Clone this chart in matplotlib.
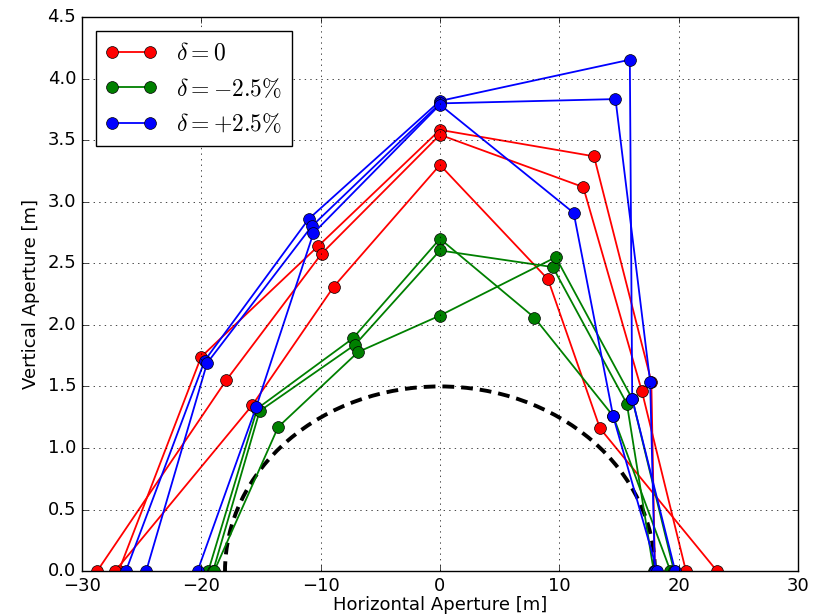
import matplotlib.pyplot as plt
from matplotlib.patches import Arc

plt.style.use('classic')
plt.rcParams['mathtext.fontset'] = 'cm'
plt.rcParams['figure.facecolor'] = 'white'
plt.rcParams['savefig.facecolor'] = 'white'

# aperture boundary, three runs per momentum offset, points ordered left -> top -> right
dp0_x = [
    [-26.9, -20.0, -10.2, 0.0, 12.9, 17.7, 18.0],
    [-28.7, -17.9, -9.9, 0.0, 12.0, 16.9, 20.6],
    [-27.2, -15.7, -8.9, 0.0, 9.05, 13.4, 23.2],
]
dp0_y = [
    [0.0, 1.74, 2.64, 3.585, 3.37, 1.54, 0.0],
    [0.0, 1.55, 2.58, 3.545, 3.12, 1.465, 0.0],
    [0.0, 1.35, 2.31, 3.30, 2.37, 1.16, 0.0],
]

dpm_x = [
    [-19.4, -15.3, -7.3, 0.0, 7.9, 14.5, 19.3],
    [-19.0, -15.1, -7.1, 0.0, 9.45, 15.65, 17.9],
    [-18.9, -13.55, -6.85, 0.0, 9.7, 16.1, 19.6],
]
dpm_y = [
    [0.0, 1.32, 1.89, 2.70, 2.06, 1.26, 0.0],
    [0.0, 1.30, 1.84, 2.605, 2.47, 1.36, 0.0],
    [0.0, 1.17, 1.78, 2.076, 2.55, 1.40, 0.0],
]

dpp_x = [
    [-26.3, -19.7, -11.0, 0.0, 15.9, 16.1, 19.7],
    [-24.6, -19.5, -10.75, 0.0, 14.7, 17.6, 18.0],
    [-20.3, -15.4, -10.6, 0.0, 11.2, 14.5, 18.2],
]
dpp_y = [
    [0.0, 1.71, 2.86, 3.82, 4.155, 1.40, 0.0],
    [0.0, 1.69, 2.80, 3.80, 3.835, 1.54, 0.0],
    [0.0, 1.33, 2.745, 3.79, 2.91, 1.26, 0.0],
]

# physical aperture (semi-axes of the beam pipe ellipse)
pipe_a = 18.0
pipe_b = 1.5

series = [
    (dp0_x, dp0_y, 'r', r'$\delta = 0$'),
    (dpm_x, dpm_y, 'g', r'$\delta = -2.5\%$'),
    (dpp_x, dpp_y, 'b', r'$\delta = +2.5\%$'),
]

fig = plt.figure(figsize=(8.17, 6.16), dpi=100)
ax = fig.add_axes([0.100, 0.073, 0.877, 0.899])

for xs_all, ys_all, c, lab in series:
    for i, (xs, ys) in enumerate(zip(xs_all, ys_all)):
        ax.plot(xs, ys, '-o', color=c, lw=1.3, ms=8.5, mec='k', mew=0.5,
                label=lab if i == 0 else None)

ax.add_patch(Arc((0, 0), 2 * pipe_a, 2 * pipe_b, theta1=0, theta2=180,
                 color='k', lw=2.8, linestyle=(0, (8.5, 5))))

ax.set_xlim(-30, 30)
ax.set_ylim(0, 4.5)
ax.set_xticks(range(-30, 31, 10))
ax.set_yticks([i * 0.5 for i in range(10)])
ax.yaxis.set_major_formatter(plt.FormatStrFormatter('%.1f'))
ax.tick_params(labelsize=13)
ax.grid(True)

ax.set_xlabel('Horizontal Aperture [m]', fontsize=13, labelpad=1)
ax.set_ylabel('Vertical Aperture [m]', fontsize=13)

ax.legend(loc='upper left', numpoints=2, fontsize=17, handlelength=2.2,
          borderaxespad=0.6)

fig.savefig('out.png', dpi=100)
